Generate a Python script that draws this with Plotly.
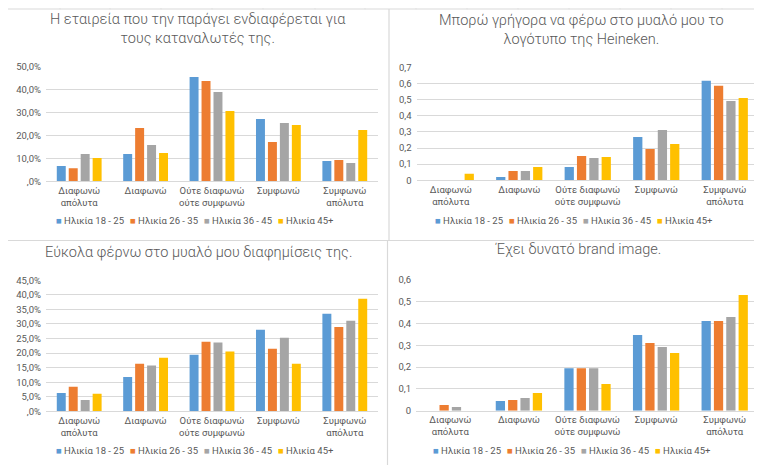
import plotly.graph_objects as go

W, H = 762, 465

categories = ["Διαφωνώ<br>απόλυτα", "Διαφωνώ", "Ούτε διαφωνώ<br>ούτε συμφωνώ",
              "Συμφωνώ", "Συμφωνώ<br>απόλυτα"]
age_groups = ["Ηλικία 18 - 25", "Ηλικία 26 - 35", "Ηλικία 36 - 45", "Ηλικία 45+"]
colors = ["#5B9BD5", "#ED7D31", "#A5A5A5", "#FFC000"]

titles = [
    "Η εταιρεία που την παράγει ενδιαφέρεται για<br>τους καταναλωτές της.",
    "Μπορώ γρήγορα να φέρω στο μυαλό μου το<br>λογότυπο της Heineken.",
    "Εύκολα φέρνω στο μυαλό μου διαφημίσεις της.",
    "Έχει δυνατό brand image.",
]

# Panel 1: Η εταιρεία που την παράγει ενδιαφέρεται για τους καταναλωτές της.
p1_18_25 = [0.067, 0.119, 0.454, 0.271, 0.088]
p1_26_35 = [0.057, 0.232, 0.436, 0.171, 0.093]
p1_36_45 = [0.119, 0.158, 0.388, 0.254, 0.080]
p1_45plus = [0.101, 0.123, 0.306, 0.245, 0.223]
p1_tickvals = [0, 0.1, 0.2, 0.3, 0.4, 0.5]
p1_ticktext = [",0%", "10,0%", "20,0%", "30,0%", "40,0%", "50,0%"]

# Panel 2: Μπορώ γρήγορα να φέρω στο μυαλό μου το λογότυπο της Heineken.
p2_18_25 = [0.0, 0.021, 0.083, 0.269, 0.616]
p2_26_35 = [0.0, 0.058, 0.151, 0.194, 0.585]
p2_36_45 = [0.0, 0.058, 0.138, 0.312, 0.492]
p2_45plus = [0.040, 0.083, 0.145, 0.225, 0.510]
p2_tickvals = [0, 0.1, 0.2, 0.3, 0.4, 0.5, 0.6, 0.7]
p2_ticktext = ["0", "0,1", "0,2", "0,3", "0,4", "0,5", "0,6", "0,7"]

# Panel 3: Εύκολα φέρνω στο μυαλό μου διαφημίσεις της.
p3_18_25 = [0.063, 0.118, 0.194, 0.280, 0.335]
p3_26_35 = [0.084, 0.163, 0.239, 0.215, 0.290]
p3_36_45 = [0.039, 0.157, 0.236, 0.253, 0.311]
p3_45plus = [0.060, 0.184, 0.205, 0.163, 0.387]
p3_tickvals = [0, 0.05, 0.10, 0.15, 0.20, 0.25, 0.30, 0.35, 0.40, 0.45]
p3_ticktext = [",0%", "5,0%", "10,0%", "15,0%", "20,0%", "25,0%", "30,0%",
               "35,0%", "40,0%", "45,0%"]

# Panel 4: Έχει δυνατό brand image.
p4_18_25 = [0.0, 0.044, 0.195, 0.347, 0.411]
p4_26_35 = [0.026, 0.049, 0.195, 0.310, 0.411]
p4_36_45 = [0.017, 0.058, 0.195, 0.292, 0.429]
p4_45plus = [0.0, 0.081, 0.122, 0.264, 0.530]
p4_tickvals = [0, 0.1, 0.2, 0.3, 0.4, 0.5, 0.6]
p4_ticktext = ["0", "0,1", "0,2", "0,3", "0,4", "0,5", "0,6"]

panels = [
    dict(series=[p1_18_25, p1_26_35, p1_36_45, p1_45plus], tv=p1_tickvals, tt=p1_ticktext,
         yr=[0, 0.5], px=(38, 370), py=(58.3, 173.3), tpos=(190, 21), lpos=(8, 212)),
    dict(series=[p2_18_25, p2_26_35, p2_36_45, p2_45plus], tv=p2_tickvals, tt=p2_ticktext,
         yr=[0, 0.7], px=(408.5, 751), py=(59.3, 172.3), tpos=(573, 22), lpos=(387, 212)),
    dict(series=[p3_18_25, p3_26_35, p3_36_45, p3_45plus], tv=p3_tickvals, tt=p3_ticktext,
         yr=[0, 0.45], px=(38, 370), py=(272.3, 403.3), tpos=(190, 244), lpos=(8, 442)),
    dict(series=[p4_18_25, p4_26_35, p4_36_45, p4_45plus], tv=p4_tickvals, tt=p4_ticktext,
         yr=[0, 0.6], px=(408, 751), py=(271.7, 402.7), tpos=(570, 242), lpos=(385, 442)),
]

FONT = "Roboto"
TXT = "#595959"
GRID = "#D9D9D9"
SMALL = 9.5

fig = go.Figure()
layout = dict(
    width=W, height=H,
    margin=dict(l=0, r=0, t=0, b=0, autoexpand=False),
    paper_bgcolor="white", plot_bgcolor="white",
    barmode="group", bargap=0.28, bargroupgap=0.25,
    font=dict(family=FONT, color=TXT, size=SMALL),
    annotations=[], shapes=[],
)

for i, p in enumerate(panels):
    n = "" if i == 0 else str(i + 1)
    xa, ya = "x" + n, "y" + n
    lg = "legend" + n
    for name, vals, col in zip(age_groups, p["series"], colors):
        fig.add_trace(go.Bar(
            x=categories, y=vals, name=name, marker_color=col,
            marker_line_width=0, xaxis=xa, yaxis=ya, showlegend=False,
            hovertemplate="%{y}<extra>" + name + "</extra>",
        ))
    # legend entries: Excel-style small square placed right before the label
    for name, col in zip(age_groups, colors):
        fig.add_trace(go.Scatter(
            x=[None], y=[None], mode="markers", xaxis=xa, yaxis=ya, legend=lg,
            name="<span style='color:%s'>■</span> %s" % (col, name),
            marker=dict(size=1, color="rgba(0,0,0,0)"), hoverinfo="skip",
        ))
    # blank spacer entry so the last label is not clipped by the legend box
    fig.add_trace(go.Scatter(
        x=[None], y=[None], mode="markers", xaxis=xa, yaxis=ya, legend=lg,
        name=" ", marker=dict(size=1, color="rgba(0,0,0,0)"), hoverinfo="skip",
    ))
    x0, x1 = p["px"]
    yt, yb = p["py"]
    layout["xaxis" + n] = dict(
        domain=[x0 / W, x1 / W], anchor=ya, showline=True, linecolor=GRID,
        linewidth=1, showgrid=False, ticks="", automargin=False,
        tickfont=dict(family=FONT, size=SMALL, color=TXT), fixedrange=True,
    )
    layout["yaxis" + n] = dict(
        domain=[1 - yb / H, 1 - yt / H], anchor=xa, range=p["yr"],
        tickvals=p["tv"], ticktext=p["tt"], showgrid=True, gridcolor=GRID,
        gridwidth=1, zeroline=False, showline=False, ticks="",
        automargin=False, ticklabelstandoff=4,
        tickfont=dict(family=FONT, size=SMALL, color=TXT), fixedrange=True,
    )
    tx, ty = p["tpos"]
    layout["annotations"].append(dict(
        text=titles[i], xref="paper", yref="paper", x=tx / W, y=1 - ty / H,
        xanchor="center", yanchor="middle", showarrow=False,
        font=dict(family=FONT, size=14.5, color=TXT, weight=300),
    ))
    lx, ly = p["lpos"]
    layout[lg] = dict(
        orientation="h", x=lx / W, y=1 - ly / H, xanchor="left", yanchor="middle",
        font=dict(family=FONT, size=SMALL, color=TXT), bgcolor="rgba(0,0,0,0)",
        itemwidth=30, entrywidth=29, entrywidthmode="pixels",
        traceorder="normal", itemclick=False, itemdoubleclick=False,
    )

# chart-object borders and sheet gridlines (layout decoration)
def line(x0, y0, x1, y1, color="#D9D9D9"):
    layout["shapes"].append(dict(type="line", xref="paper", yref="paper",
                                 x0=x0 / W, y0=1 - y0 / H, x1=x1 / W, y1=1 - y1 / H,
                                 line=dict(color=color, width=1.2)))

line(0, 1, W, 1)
for cx in [52, 102, 153, 204, 255, 307, 357, 408, 459, 510, 561, 612, 663, 714]:
    line(cx, 0, cx, 1.5, "#E3E3E3")
line(381, 1, 381, 232)
line(0, 232.5, W, 232.5)
line(379.5, 232.5, 379.5, H)
line(381, 464, W, 464)
line(0, 464, 379.5, 464, "#E8E8E8")

fig.update_layout(**layout)
fig.write_html("out.html")
